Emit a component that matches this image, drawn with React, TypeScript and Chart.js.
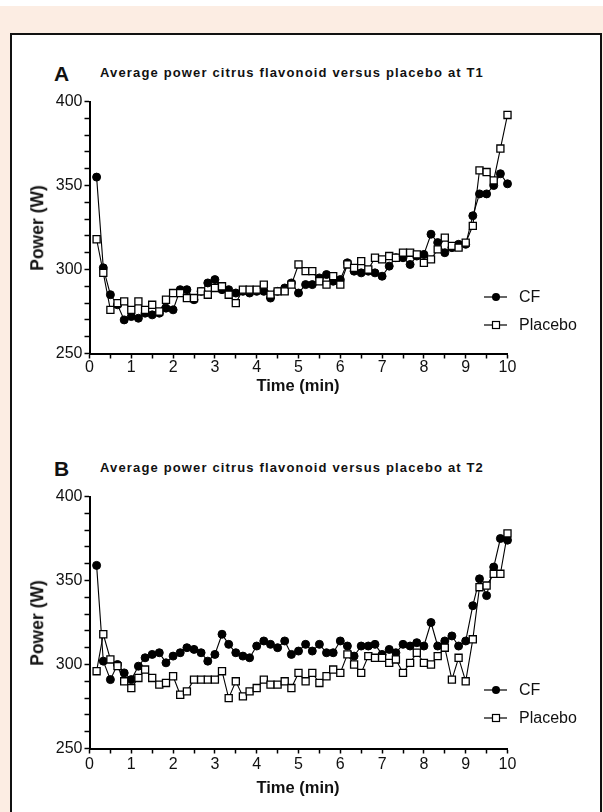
import React, { useEffect, useRef } from "react";
import { Chart, registerables } from "chart.js";

Chart.register(...registerables);

// Time points (min)
const timeMin = [
  0.17, 0.33, 0.5, 0.67, 0.83, 1, 1.17, 1.33, 1.5, 1.67, 1.83, 2,
  2.17, 2.33, 2.5, 2.67, 2.83, 3, 3.17, 3.33, 3.5, 3.67, 3.83, 4,
  4.17, 4.33, 4.5, 4.67, 4.83, 5, 5.17, 5.33, 5.5, 5.67, 5.83, 6,
  6.17, 6.33, 6.5, 6.67, 6.83, 7, 7.17, 7.33, 7.5, 7.67, 7.83, 8,
  8.17, 8.33, 8.5, 8.67, 8.83, 9, 9.17, 9.33, 9.5, 9.67, 9.83, 10,
];

// Panel A (T1)
const cfT1 = [
  355, 301, 285, 279, 270, 272, 271, 274, 273, 274, 277, 276,
  288, 288, 282, 287, 292, 294, 288, 288, 286, 287, 286, 287,
  287, 283, 287, 289, 292, 286, 291, 291, 295, 297, 293, 294,
  304, 299, 298, 299, 298, 296, 302, 307, 307, 303, 308, 309,
  321, 316, 310, 313, 315, 315, 332, 345, 345, 350, 357, 351,
];
const placeboT1 = [
  318, 298, 276, 280, 281, 276, 281, 276, 279, 275, 282, 286,
  286, 283, 283, 287, 285, 289, 290, 285, 280, 288, 288, 288,
  291, 285, 287, 287, 291, 303, 299, 299, 293, 291, 296, 291,
  303, 301, 305, 300, 307, 306, 308, 307, 310, 310, 309, 304,
  306, 312, 319, 314, 313, 316, 326, 359, 358, 353, 372, 392,
];

// Panel B (T2)
const cfT2 = [
  359, 302, 291, 300, 295, 291, 299, 304, 306, 307, 301, 305,
  307, 310, 309, 307, 302, 306, 318, 312, 307, 305, 304, 311,
  314, 312, 310, 314, 306, 308, 312, 308, 312, 307, 307, 314,
  311, 305, 311, 311, 312, 306, 309, 307, 312, 311, 313, 311,
  325, 311, 314, 317, 311, 314, 335, 351, 341, 358, 375, 374,
];
const placeboT2 = [
  296, 318, 303, 299, 290, 286, 292, 297, 292, 288, 289, 293,
  282, 284, 291, 291, 291, 291, 296, 280, 290, 281, 284, 286,
  291, 288, 288, 290, 286, 295, 290, 295, 289, 293, 297, 295,
  306, 300, 295, 305, 304, 304, 301, 303, 295, 301, 307, 301,
  300, 305, 310, 291, 304, 290, 315, 346, 347, 354, 354, 378,
];

const xTickLabels = ["0", "1", "2", "3", "4", "5", "6", "7", "8", "9", "10"];
const yTickLabels = ["250", "300", "350", "400"];
const seriesNames = ["CF", "Placebo"];

const SANS = '"Liberation Sans", Arial, "DejaVu Sans", sans-serif';

const legendPlugin = {
  id: "sideLegend",
  afterDraw(chart: any, _args: any, opts: any) {
    const ctx = chart.ctx;
    const { x, y, gap } = opts;
    ctx.save();
    seriesNames.forEach((name, i) => {
      const yy = y + i * gap;
      ctx.strokeStyle = "#000";
      ctx.lineWidth = 1.2;
      ctx.beginPath();
      ctx.moveTo(x, yy);
      ctx.lineTo(x + 23, yy);
      ctx.stroke();
      const cx = x + 12;
      if (i === 0) {
        ctx.fillStyle = "#000";
        ctx.beginPath();
        ctx.arc(cx, yy, 4, 0, Math.PI * 2);
        ctx.fill();
      } else {
        ctx.fillStyle = "#fff";
        ctx.fillRect(cx - 3.5, yy - 3.5, 7, 7);
        ctx.lineWidth = 1.2;
        ctx.strokeRect(cx - 3.5, yy - 3.5, 7, 7);
      }
      ctx.fillStyle = "#111";
      ctx.font = `16px ${SANS}`;
      ctx.textBaseline = "middle";
      ctx.textAlign = "left";
      ctx.fillText(name, x + 35, yy + 1);
    });
    ctx.restore();
  },
};

type PanelProps = {
  cf: number[];
  placebo: number[];
  top: number;
  legendY: number;
  labelPad: number;
  xTitleOffset: number;
  letter: string;
  title: string;
};

const CANVAS_H = 316;
const PAD_TOP = 31.5;
const X_AXIS_H = 32.5;

function Panel({ cf, placebo, top, legendY, labelPad, xTitleOffset, letter, title }: PanelProps) {
  const ref = useRef<HTMLCanvasElement>(null);

  useEffect(() => {
    const chart = new Chart(ref.current as HTMLCanvasElement, {
      type: "line",
      data: {
        datasets: [
          {
            label: seriesNames[0],
            data: timeMin.map((t, i) => ({ x: t, y: cf[i] })),
            borderColor: "#000",
            borderWidth: 1.1,
            pointStyle: "circle",
            pointRadius: 4,
            pointBackgroundColor: "#000",
            pointBorderColor: "#000",
            pointBorderWidth: 1,
            tension: 0,
            order: 1,
            clip: false,
          },
          {
            label: seriesNames[1],
            data: timeMin.map((t, i) => ({ x: t, y: placebo[i] })),
            borderColor: "#000",
            borderWidth: 1.1,
            pointStyle: "rect",
            pointRadius: 5,
            pointBackgroundColor: "#fff",
            pointBorderColor: "#000",
            pointBorderWidth: 1.3,
            tension: 0,
            order: 0,
            clip: false,
          },
        ],
      },
      options: {
        animation: false,
        responsive: false,
        maintainAspectRatio: false,
        devicePixelRatio: 1,
        events: [],
        layout: { padding: { top: PAD_TOP, left: 0, right: 95.5, bottom: 0 } },
        plugins: {
          legend: { display: false },
          tooltip: { enabled: false },
          title: { display: false },
          sideLegend: { x: 484, y: legendY - top, gap: 28 },
        } as any,
        scales: {
          x: {
            type: "linear",
            min: 0,
            max: 10,
            ticks: {
              stepSize: 0.5,
              autoSkip: false,
              maxRotation: 0,
              color: "#111",
              padding: labelPad,
              font: { family: SANS, size: 16 },
              callback: (v: any) => {
                const s = String(v);
                return xTickLabels.includes(s) ? s : "";
              },
            },
            grid: {
              display: true,
              drawOnChartArea: false,
              drawTicks: true,
              tickLength: 5,
              tickColor: "#000",
              tickWidth: 1.5,
            },
            border: { display: true, color: "#000", width: 2 },
            afterFit: (s: any) => {
              s.height = X_AXIS_H;
            },
          },
          y: {
            type: "linear",
            min: 250,
            max: 400,
            ticks: {
              stepSize: 10,
              autoSkip: false,
              color: "#111",
              padding: 2,
              font: { family: SANS, size: 16 },
              callback: (v: any) => {
                const s = String(v);
                return yTickLabels.includes(s) ? s : "";
              },
            },
            grid: {
              display: true,
              drawOnChartArea: false,
              drawTicks: true,
              tickLength: 5,
              tickColor: "#000",
              tickWidth: 1.5,
            },
            border: { display: true, color: "#000", width: 2 },
            afterFit: (s: any) => {
              s.width = 89.5;
            },
          },
        },
      } as any,
      plugins: [legendPlugin],
    });
    return () => chart.destroy();
  }, [cf, placebo, top, legendY, labelPad]);

  const plotTop = top + PAD_TOP;
  const plotBottom = top + CANVAS_H - X_AXIS_H;

  return (
    <>
      <div
        style={{
          position: "absolute",
          left: 54,
          top: plotTop - 29,
          transform: "translateY(-50%)",
          font: `bold 21px ${SANS}`,
          lineHeight: 1,
          color: "#111",
        }}
      >
        {letter}
      </div>
      <div
        style={{
          position: "absolute",
          left: 100,
          top: plotTop - 30,
          transform: "translateY(-50%)",
          font: `bold 13px ${SANS}`,
          letterSpacing: "1.15px",
          lineHeight: 1,
          color: "#111",
          whiteSpace: "nowrap",
        }}
      >
        {title}
      </div>
      <canvas
        ref={ref}
        width={603}
        height={CANVAS_H}
        style={{ position: "absolute", left: 0, top, width: 603, height: CANVAS_H }}
      />
      <div
        style={{
          position: "absolute",
          left: 38,
          top: (plotTop + plotBottom) / 2,
          transform: "translate(-50%, -50%) rotate(-90deg)",
          font: `bold 17.5px ${SANS}`,
          lineHeight: 1,
          color: "#111",
          whiteSpace: "nowrap",
        }}
      >
        Power (W)
      </div>
      <div
        style={{
          position: "absolute",
          left: 298,
          top: plotBottom + xTitleOffset,
          transform: "translate(-50%, -50%)",
          font: `bold 16.5px ${SANS}`,
          lineHeight: 1,
          color: "#111",
          whiteSpace: "nowrap",
        }}
      >
        Time (min)
      </div>
    </>
  );
}

export default function App() {
  return (
    <div
      style={{
        position: "fixed",
        left: 0,
        top: 0,
        width: 603,
        height: 812,
        background: "#FCEDE3",
        overflow: "hidden",
      }}
    >
      <div style={{ position: "absolute", left: 0, top: 0, width: 603, height: 6, background: "#fff" }} />
      <div
        style={{
          position: "absolute",
          left: 10,
          top: 33,
          width: 588,
          height: 800,
          background: "#fff",
          border: "2px solid #111",
        }}
      />
      <Panel
        cf={cfT1}
        placebo={placeboT1}
        top={70}
        legendY={297}
        labelPad={-1}
        xTitleOffset={31}
        letter="A"
        title="Average power citrus flavonoid versus placebo at T1"
      />
      <Panel
        cf={cfT2}
        placebo={placeboT2}
        top={465}
        legendY={690}
        labelPad={1}
        xTitleOffset={38}
        letter="B"
        title="Average power citrus flavonoid versus placebo at T2"
      />
    </div>
  );
}
